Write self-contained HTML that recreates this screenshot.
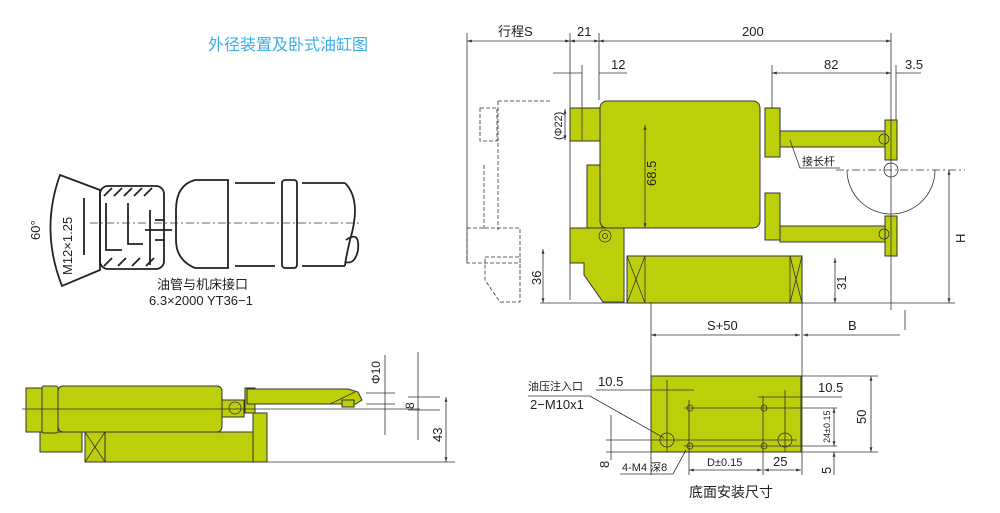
<!DOCTYPE html>
<html><head><meta charset="utf-8"><style>
html,body{margin:0;padding:0;background:#fff;}
svg{display:block;}
text{font-family:"Liberation Sans","Noto Sans CJK SC",sans-serif;fill:#222;}
.y{fill:#bccf0a;stroke:#333;stroke-width:1;}
.l{stroke:#333;stroke-width:0.8;fill:none;}
.f{stroke:#222;stroke-width:1.8;fill:none;}
.d{stroke:#333;stroke-width:0.8;fill:none;stroke-dasharray:8 3 2 3;}
.p{stroke:#333;stroke-width:0.8;fill:none;stroke-dasharray:4 2;}
</style></head><body>
<svg width="1000" height="513" viewBox="0 0 1000 513" xmlns="http://www.w3.org/2000/svg">
<defs><marker id="a" viewBox="0 0 10 10" refX="10" refY="5" markerWidth="6" markerHeight="6" orient="auto-start-reverse"><path d="M0,2L10,5L0,8z" fill="#333"/></marker></defs>
<text x="208" y="50" style="fill:#3aaee6;font-size:16px">外径装置及卧式油缸图</text>

<!-- fitting -->
<path class="f" d="M60,175 L100,190 L100,270 L62,286 Q40,230 60,175 Z"/>
<rect class="f" x="100" y="186" width="64" height="83" rx="8"/>
<path class="f" d="M104,196 L112,188 M114,196 L122,188 M124,196 L132,188 M134,196 L142,188 M144,196 L152,188 M104,266 L112,258 M118,266 L126,258 M132,266 L140,258 M146,266 L154,258"/>
<path class="f" d="M106,203 V250 H122 M128,203 V244 H143 M150,210 V265 M145,230 H172 M155,220 H165 M155,240 H165"/>
<line class="f" x1="84" y1="198" x2="84" y2="255"/>
<path class="f" d="M195,180 H228 V268 H195 Q176,260 176,240 V210 Q176,185 195,180 Z"/>
<path class="f" d="M235,183 H275 M235,266 H275 M302,183 H345 M302,266 H345 M345,183 Q362,200 350,240 Q345,262 345,266"/>
<rect class="f" x="282" y="180" width="15" height="88" rx="3"/>
<path class="f" d="M346,240 Q360,230 358,250 Q355,265 345,262"/>
<line class="d" x1="90" y1="223" x2="362" y2="223"/>
<text transform="translate(40,240) rotate(-90)" font-size="13">60°</text>
<text transform="translate(72,275) rotate(-90)" font-size="13">M12×1.25</text>
<text x="157" y="289" font-size="13">油管与机床接口</text>
<text x="149" y="305" font-size="13">6.3×2000  YT36−1</text>

<!-- bottom-left view -->
<rect class="y" x="26" y="388" width="16" height="44"/>
<rect class="y" x="40" y="432" width="42" height="20"/>
<rect class="y" x="105" y="432" width="150" height="30"/>
<rect class="y" x="253" y="413" width="14" height="49"/>
<rect class="y" x="85" y="432" width="20" height="30"/>
<path class="l" d="M85,432 L105,462 M105,432 L85,462"/>
<rect class="y" x="245" y="388" width="10" height="25"/>
<path class="y" d="M247,389 H348 L358,392 L362,400 L356,404 H247 Z"/>
<rect class="y" x="42" y="386" width="16" height="47" rx="2"/>
<rect class="y" x="58" y="386" width="164" height="46" rx="5"/>
<rect class="y" x="222" y="400" width="22" height="17"/>
<circle class="l" cx="235" cy="408" r="6"/>
<rect class="y" x="342" y="400" width="12" height="7"/>
<path class="l" d="M330,404 L355,392 M22,409 H420 M366,393 H395 M366,404 H395 M408,397 H440 M408,410 H440"/>
<line class="l" x1="385" y1="355" x2="385" y2="435" />
<line class="l" x1="418" y1="352" x2="418" y2="440"/>
<line class="l" x1="446" y1="397" x2="446" y2="462" marker-start="url(#a)" marker-end="url(#a)"/>
<line class="l" x1="267" y1="462" x2="455" y2="462"/>
<text transform="translate(380,384) rotate(-90)" font-size="12">Φ10</text>
<text transform="translate(414,409) rotate(-90)" font-size="12">8</text>
<text transform="translate(442,442) rotate(-90)" font-size="13">43</text>

<!-- main right view -->
<path class="p" d="M498,101 H552 M498,101 V230 M480,108 H497 V141 H480 Z M484,165 V230 M467,228 H520 V263 H467 Z M485,257 H520 V302 H500 L485,280 Z"/>
<rect class="y" x="570" y="108" width="32" height="33"/>
<rect class="y" x="587" y="165" width="15" height="63"/>
<path class="y" d="M570,228 H624 V302 H603 L584,275 V263 H570 Z"/>
<rect class="y" x="600" y="101" width="160" height="127" rx="7"/>
<circle class="l" cx="605" cy="236" r="6"/><circle class="l" cx="605" cy="236" r="2.5"/>
<rect class="y" x="627" y="256" width="175" height="47"/>
<path class="l" d="M645,256 V303 M790,256 V303 M627,256 L645,303 M645,256 L627,303 M790,256 L802,303 M802,256 L790,303"/>
<!-- arms -->
<rect class="y" x="780" y="131" width="115" height="16"/>
<rect class="y" x="765" y="108" width="15" height="49"/>
<rect class="y" x="885" y="120" width="12" height="40"/>
<circle class="l" cx="884" cy="139" r="5"/>
<rect class="y" x="780" y="226" width="115" height="16"/>
<rect class="y" x="765" y="193" width="15" height="47"/>
<rect class="y" x="885" y="216" width="12" height="40"/>
<circle class="l" cx="884" cy="234" r="5"/>
<path class="l" d="M847,170 A44,44 0 0 0 935,170"/>
<circle class="l" cx="891" cy="170" r="7"/>
<line class="d" x1="836" y1="170" x2="965" y2="170"/>
<path class="l" d="M790,140 L800,168 H840"/>
<text x="802" y="165" font-size="11">接长杆</text>
<!-- dims -->
<path class="l" d="M467,33 V263 M570,33 V300 M599,33 V100 M891,33 V310 M582,65 V140 M772,65 V108 M896,65 V120 M540,303 H955 M651,303 V475 M802,303 V475 M905,330 V310"/>
<line class="l" x1="467" y1="41" x2="570" y2="41" marker-start="url(#a)" marker-end="url(#a)"/>
<line class="l" x1="570" y1="41" x2="599" y2="41" marker-start="url(#a)" marker-end="url(#a)"/>
<line class="l" x1="599" y1="41" x2="891" y2="41" marker-start="url(#a)" marker-end="url(#a)"/>
<path class="l" d="M553,73 H582 M599,73 H627"/>
<line class="l" x1="772" y1="73" x2="891" y2="73" marker-start="url(#a)" marker-end="url(#a)"/>
<path class="l" d="M896,73 H921"/>
<line class="l" x1="565" y1="109" x2="565" y2="140" marker-start="url(#a)" marker-end="url(#a)"/>
<line class="l" x1="645" y1="125" x2="645" y2="228" marker-start="url(#a)" marker-end="url(#a)"/>
<line class="l" x1="949" y1="170" x2="949" y2="303" marker-start="url(#a)" marker-end="url(#a)"/>
<line class="l" x1="543" y1="249" x2="543" y2="303" marker-start="url(#a)" marker-end="url(#a)"/>
<line class="l" x1="835" y1="258" x2="835" y2="303" marker-start="url(#a)" marker-end="url(#a)"/>
<text x="498" y="36" font-size="13">行程S</text>
<text x="577" y="36" font-size="13">21</text>
<text x="742" y="36" font-size="13">200</text>
<text x="611" y="69" font-size="13">12</text>
<text x="824" y="69" font-size="13">82</text>
<text x="905" y="69" font-size="13">3.5</text>
<text transform="translate(562,140) rotate(-90)" font-size="11">(Φ22)</text>
<text transform="translate(656,186) rotate(-90)" font-size="13">68.5</text>
<text transform="translate(965,243) rotate(-90)" font-size="13">H</text>
<text transform="translate(541,285) rotate(-90)" font-size="13">36</text>
<text transform="translate(846,290) rotate(-90)" font-size="13">31</text>

<!-- bottom plate -->
<line class="l" x1="651" y1="335" x2="800" y2="335" marker-start="url(#a)" marker-end="url(#a)"/>
<line class="l" x1="900" y1="335" x2="803" y2="335" marker-end="url(#a)"/>
<text x="707" y="330" font-size="13">S+50</text>
<text x="848" y="330" font-size="13">B</text>
<rect class="y" x="651" y="376" width="150" height="76"/>
<path class="l" d="M667,380 V452 M785,390 V452 M689,400 V475 M763,396 V475 M684,408 H837 M684,446 H837 M606,440 H797 M596,390 H694 M758,397 H842 M801,376 H878 M801,452 H878 M611,415 V460 M606,452 H651"/>
<circle class="l" cx="667" cy="440" r="7"/><circle class="l" cx="785" cy="440" r="7"/>
<circle class="l" cx="690" cy="408" r="3"/><circle class="l" cx="764" cy="408" r="3"/><circle class="l" cx="690" cy="446" r="3"/><circle class="l" cx="764" cy="446" r="3"/>
<line class="l" x1="871" y1="376" x2="871" y2="452" marker-start="url(#a)" marker-end="url(#a)"/>
<line class="l" x1="834" y1="408" x2="834" y2="446" marker-start="url(#a)" marker-end="url(#a)"/>
<line class="l" x1="834" y1="475" x2="834" y2="452" marker-end="url(#a)"/>
<line class="l" x1="689" y1="470" x2="762" y2="470" marker-start="url(#a)" marker-end="url(#a)"/>
<line class="l" x1="764" y1="470" x2="801" y2="470" marker-start="url(#a)" marker-end="url(#a)"/>
<path class="l" d="M528,396 H590 L664,438 M620,474 H673 L686,450"/>
<text x="528" y="390" font-size="11">油压注入口</text>
<text x="530" y="409" font-size="13">2−M10x1</text>
<text x="598" y="386" font-size="13">10.5</text>
<text x="818" y="392" font-size="13">10.5</text>
<text x="622" y="471" font-size="11">4-M4 深8</text>
<text x="707" y="466" font-size="11">D±0.15</text>
<text x="773" y="466" font-size="13">25</text>
<text transform="translate(866,424) rotate(-90)" font-size="13">50</text>
<text transform="translate(830,443) rotate(-90)" font-size="9">24±0.15</text>
<text transform="translate(831,474) rotate(-90)" font-size="13">5</text>
<text transform="translate(609,468) rotate(-90)" font-size="13">8</text>
<text x="689" y="497" font-size="14">底面安装尺寸</text>
</svg>
</body></html>
